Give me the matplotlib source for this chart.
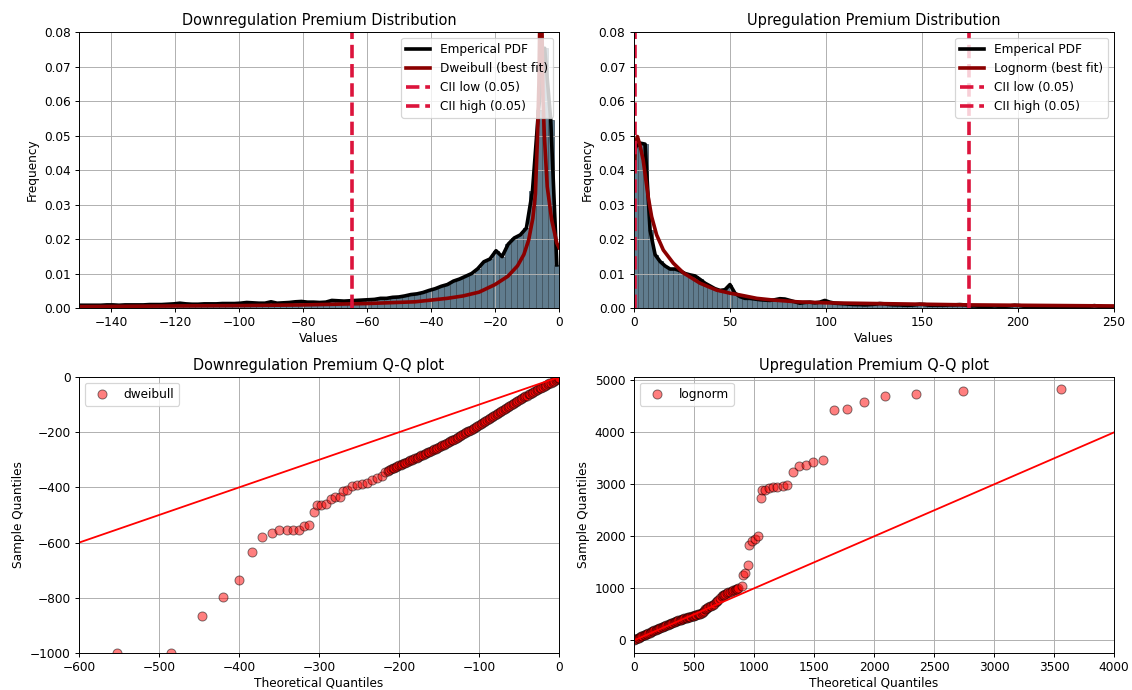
import numpy as np
import matplotlib.pyplot as plt

# ============================================
# Data
# ============================================

# Downregulation: empirical pdf per bin (bin width ~1.9, left to right)
down_bin_width = 1.9
down_first_centre = -150.8
down_pdf = [
    0.0008, 0.0008, 0.0008, 0.0008, 0.0008, 0.0009, 0.0009, 0.0008, 0.0009, 0.0009,
    0.0009, 0.0009, 0.0010, 0.0010, 0.0010, 0.0011, 0.0012, 0.0014, 0.0012, 0.0011,
    0.0011, 0.0012, 0.0012, 0.0012, 0.0013, 0.0013, 0.0013, 0.0014, 0.0016, 0.0015,
    0.0014, 0.0014, 0.0018, 0.0014, 0.0015, 0.0016, 0.0018, 0.0019, 0.0017, 0.0017,
    0.0016, 0.0017, 0.0022, 0.0021, 0.0020, 0.0021, 0.0022, 0.0023, 0.0024, 0.0025,
    0.0028, 0.0028, 0.0031, 0.0032, 0.0035, 0.0039, 0.0041, 0.0045, 0.0051, 0.0056,
    0.0063, 0.0068, 0.0078, 0.0084, 0.0092, 0.0100, 0.0114, 0.0134, 0.0142, 0.0166,
    0.0149, 0.0185, 0.0203, 0.0212, 0.0232, 0.0340, 0.0575, 0.0753, 0.0545, 0.0125,
]

# Dweibull best fit curve
down_fit_x = [-150, -120, -100, -80, -60, -45, -35, -30, -25, -20, -16, -13, -11, -9.5,
              -8.2, -7.4, -6.8, -6.3, -6.0, -5.8, -5.7, -5.6, -5.4, -5.0, -4.6, -3.7,
              -2.3, -0.7, 0]
down_fit_y = [0.0004, 0.0006, 0.0007, 0.0009, 0.0013, 0.0018, 0.0028, 0.0035, 0.0046,
              0.0068, 0.0092, 0.0122, 0.0155, 0.0197, 0.0260, 0.0330, 0.0480, 0.0650,
              0.0850, 0.1100, 0.2000, 0.1100, 0.0850, 0.0600, 0.0500, 0.0352, 0.0255,
              0.0188, 0.0175]
down_cii_low = -64.6
down_cii_high = 1.0   # outside the shown range

# Upregulation: empirical pdf per bin (bin width ~2.6)
up_bin_width = 2.6
up_first_centre = 0.6
up_pdf = [
    0.0465, 0.0478, 0.0475, 0.0225, 0.0155, 0.0135, 0.0122, 0.0113, 0.0113, 0.0108,
    0.0100, 0.0096, 0.0093, 0.0083, 0.0072, 0.0064, 0.0056, 0.0051, 0.0053, 0.0068,
    0.0043, 0.0033, 0.0028, 0.0028, 0.0026, 0.0024, 0.0023, 0.0022, 0.0024, 0.0027,
    0.0026, 0.0022, 0.0018, 0.0014, 0.0016, 0.0017, 0.0015, 0.0017, 0.0022, 0.0017,
    0.0014, 0.0013, 0.0012, 0.0011, 0.0010, 0.0010, 0.0009, 0.0010, 0.0011, 0.0013,
    0.0012, 0.0010, 0.0009, 0.0009, 0.0008, 0.0008, 0.0009, 0.0011, 0.0010, 0.0008,
    0.0008, 0.0008, 0.0008, 0.0009, 0.0009, 0.0010, 0.0009, 0.0006, 0.0006, 0.0005,
    0.0005, 0.0005, 0.0006, 0.0005, 0.0005, 0.0006, 0.0008, 0.0007, 0.0005, 0.0004,
    0.0004, 0.0004, 0.0004, 0.0004, 0.0004, 0.0004, 0.0003, 0.0003, 0.0003, 0.0004,
    0.0004, 0.0005, 0.0007, 0.0005, 0.0003, 0.0003, 0.0003,
]

# Lognorm best fit curve
up_fit_x = [0.3, 0.8, 1.8, 3.0, 4.8, 7.4, 9.2, 11.8, 15.3, 20.5, 25.7, 34.4, 43.0, 50.0,
            55.0, 64.0, 72.6, 85.0, 100.0, 125.0, 150.0, 175.0, 200.0, 225.0, 250.0]
up_fit_y = [0.040, 0.048, 0.0497, 0.0475, 0.0429, 0.0323, 0.0265, 0.0212, 0.0168, 0.0130,
            0.0102, 0.0072, 0.0052, 0.0043, 0.0038, 0.0028, 0.0023, 0.0018, 0.0015,
            0.0013, 0.0011, 0.0009, 0.0008, 0.0007, 0.0006]
up_cii_low = 0.5
up_cii_high = 174.3

# Q-Q plot: downregulation vs dweibull (sparse tail, then the dense band)
down_theoretical = [
    -553, -484.5, -446, -420, -400, -383.6, -370.7, -359.4, -349.8, -340.6,
    -332.3, -325.6, -318.5, -312.3, -306.4, -302.3, -298, -291.8, -285.6, -279.8,
    -274, -270.6, -265.6, -259.3, -253, -246.8, -240.5, -234.3, -228, -221.8,
    -217.6,
    -214, -212, -210, -208, -206, -204, -202, -200, -198, -196,
    -194, -192, -190, -188, -186, -184, -182, -180, -178, -176,
    -174, -172, -170, -168, -166, -164, -162, -160, -158, -156,
    -154, -152, -150, -148, -146, -144, -142, -140, -138, -136,
    -134, -132, -130, -128, -126, -124, -122, -120, -118, -116,
    -114, -112, -110, -108, -106, -104, -102, -100, -98, -96,
    -94, -92, -90, -88, -86, -84, -82, -80, -78, -76,
    -74, -72, -70, -68, -66, -64, -62, -60, -58, -56,
    -54, -52, -50, -48, -46, -44, -42, -40, -38, -36,
    -34, -32, -30, -28, -26, -24, -22, -20, -18, -16,
    -14, -12, -10, -8, -6, -4, -2, -1, 0,
]
down_sample = [
    -1000, -1000, -867, -797, -737, -634, -580, -564, -556, -556,
    -553, -553, -539, -535, -490, -465, -465, -459, -442, -435,
    -435, -414, -408, -396, -391, -388, -384, -372, -366, -360,
    -345,
    -340, -337, -334, -331, -329, -326, -323, -320, -317, -315,
    -312, -310, -307, -305, -302, -300, -297, -294, -292, -289,
    -286, -284, -281, -279, -276, -273, -270, -268, -265, -262,
    -259, -256, -253, -251, -248, -245, -242, -239, -236, -233,
    -230, -227, -224, -220, -217, -214, -211, -207, -204, -201,
    -197, -194, -191, -187, -184, -181, -178, -174, -171, -167,
    -164, -160, -157, -153, -150, -146, -142, -139, -135, -131,
    -128, -124, -120, -117, -113, -109, -106, -102, -98, -95,
    -91, -88, -84, -81, -77, -74, -70, -67, -63, -60,
    -57, -53, -50, -47, -44, -41, -38, -35, -32, -29,
    -26, -23, -20, -17, -14, -11, -7, -5, -2,
]

# Q-Q plot: upregulation vs lognorm (dense band, then the sparse tail)
up_theoretical = [
    0, 10, 20, 30, 40, 50, 60, 70, 80, 90,
    100, 110, 120, 130, 140, 150, 160, 170, 180, 190,
    200, 210, 220, 230, 240, 250, 260, 270, 280, 290,
    300, 310, 320, 330, 340, 350, 360, 370, 380, 390,
    400, 410, 420, 430, 440, 450, 460, 470, 480, 490,
    500, 510, 520, 530, 540, 550, 563, 572, 580, 591,
    600, 610, 620, 633, 645, 661, 670, 680, 690, 702,
    716, 730, 740, 750, 760, 772, 785, 800, 815, 827,
    840, 850, 860, 869,
    897, 910, 924, 952, 960, 980, 1008, 1035, 1055, 1071,
    1094, 1124, 1155, 1196, 1238, 1277, 1324, 1377, 1430, 1493,
    1574, 1665, 1774, 1915, 2096, 2346, 2740, 3556,
]
up_sample = [
    10, 22, 33, 44, 55, 66, 76, 87, 97, 108,
    118, 129, 139, 150, 160, 171, 181, 192, 202, 213,
    223, 234, 244, 255, 265, 275, 284, 293, 302, 311,
    320, 330, 339, 348, 357, 366, 375, 384, 393, 401,
    409, 417, 424, 431, 438, 444, 450, 455, 460, 466,
    472, 481, 490, 498, 505, 515, 526, 545, 560, 603,
    612, 625, 638, 654, 668, 686, 705, 730, 758, 782,
    814, 846, 864, 880, 895, 910, 925, 940, 952, 965,
    978, 985, 995, 1006,
    1051, 1263, 1295, 1455, 1840, 1904, 1949, 2000, 2731, 2897,
    2897, 2929, 2949, 2949, 2962, 2981, 3237, 3359, 3378, 3423,
    3474, 4423, 4455, 4577, 4692, 4744, 4788, 4833,
]

# ============================================
# Figure
# ============================================
dpi = 87
fig, axes = plt.subplots(2, 2, figsize=(1132 / dpi, 690 / dpi), dpi=dpi)
plt.subplots_adjust(left=0.0698, right=0.9841, top=0.9536, bottom=0.0536,
                    wspace=0.156, hspace=0.25)

bar_color = '#607c8e'
bar_edge = '#3e4f5b'


def draw_hist(ax, first_centre, width, pdf, fit_x, fit_y, fit_label, cii_low, cii_high):
    centres = first_centre + width * np.arange(len(pdf))
    ax.bar(centres, pdf, width=width, color=bar_color, edgecolor=bar_edge, linewidth=0.6)
    ax.plot(centres, pdf, color='black', lw=3, label='Emperical PDF')
    ax.plot(fit_x, fit_y, color='darkred', lw=3, label=fit_label)
    ax.axvline(cii_low, color='crimson', ls='--', lw=3, label='CII low (0.05)')
    ax.axvline(cii_high, color='crimson', ls='--', lw=3, label='CII high (0.05)')
    ax.set_ylim(0, 0.08)
    ax.set_xlabel('Values', labelpad=2)
    ax.set_ylabel('Frequency')
    ax.grid(True)
    ax.legend(loc='upper right')


ax = axes[0, 0]
draw_hist(ax, down_first_centre, down_bin_width, down_pdf, down_fit_x, down_fit_y,
          'Dweibull (best fit)', down_cii_low, down_cii_high)
ax.set_xlim(-150, 0)
ax.set_title('Downregulation Premium Distribution')

ax = axes[0, 1]
draw_hist(ax, up_first_centre, up_bin_width, up_pdf, up_fit_x, up_fit_y,
          'Lognorm (best fit)', up_cii_low, up_cii_high)
ax.set_xlim(0, 250)
ax.set_title('Upregulation Premium Distribution')


def draw_qq(ax, theo, sample, label, xlim, ylim):
    ax.plot(theo, sample, 'o', markerfacecolor='red', markeredgecolor='black',
            markeredgewidth=0.8, markersize=7.5, alpha=0.5, label=label)
    lo = min(xlim[0], ylim[0])
    hi = max(xlim[1], ylim[1])
    ax.plot([lo, hi], [lo, hi], color='red', lw=1.5)
    ax.set_xlim(*xlim)
    ax.set_ylim(*ylim)
    ax.set_xlabel('Theoretical Quantiles', labelpad=1.5)
    ax.set_ylabel('Sample Quantiles')
    ax.grid(True)
    ax.legend(loc='upper left')


ax = axes[1, 0]
draw_qq(ax, down_theoretical, down_sample, 'dweibull', (-600, 0), (-1000, 0))
ax.set_title('Downregulation Premium Q-Q plot')

ax = axes[1, 1]
draw_qq(ax, up_theoretical, up_sample, 'lognorm', (0, 4000), (-243, 5065))
ax.set_title('Upregulation Premium Q-Q plot')

plt.savefig('out.png', dpi=dpi)
